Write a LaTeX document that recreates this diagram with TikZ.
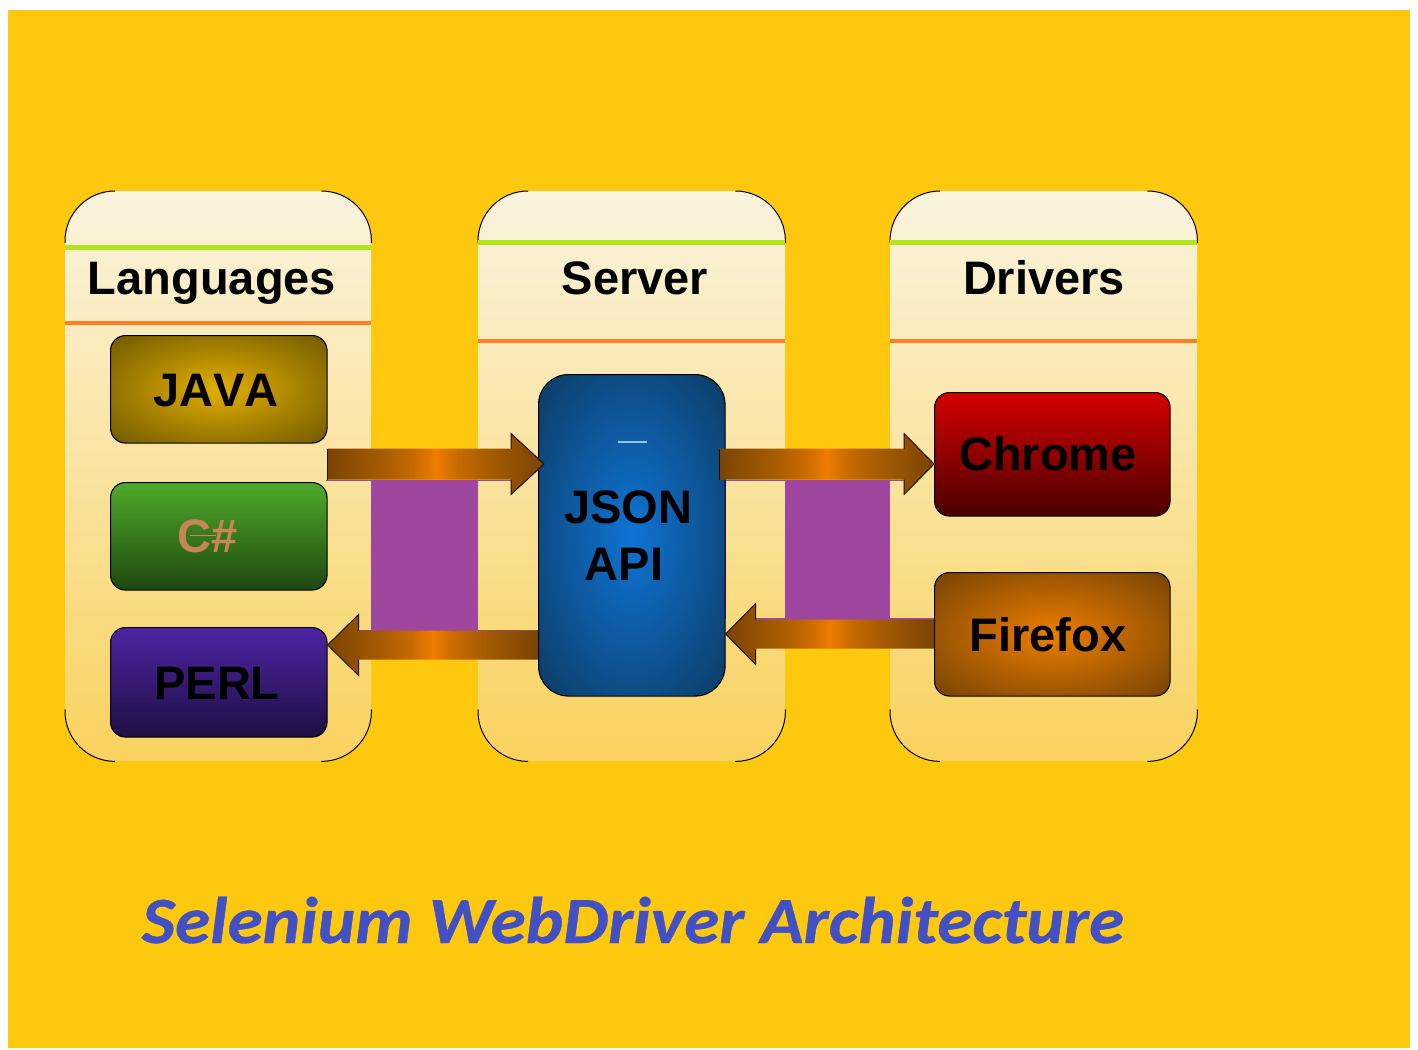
\documentclass[tikz,border=0pt]{standalone}
\usepackage{fontspec}
\setmainfont[Kerning=Off]{Liberation Sans}
\newfontfamily\titlefont[FakeStretch=1.08,FakeBold=0.6]{Carlito}
\usetikzlibrary{calc}
\definecolor{bgyellow}{HTML}{FEC80E}
\definecolor{purpleband}{HTML}{9F479E}
\definecolor{greenline}{HTML}{B0E61A}
\definecolor{orangeline}{HTML}{FF7F27}
\definecolor{paneltop}{HTML}{FAF4DE}
\definecolor{panelbot}{HTML}{F9D25E}
\definecolor{arrowdark}{HTML}{7A4304}
\definecolor{arrowb}{HTML}{A85C02}
\definecolor{arrowc}{HTML}{C86A00}
\definecolor{arrowmid}{HTML}{EE7D00}
\definecolor{titleblue}{HTML}{4150C4}
\definecolor{sharptext}{HTML}{C98558}
\definecolor{javain}{HTML}{E2AF00}
\definecolor{javaout}{HTML}{6F5800}
\definecolor{greentop}{HTML}{4FAA2A}
\definecolor{greenbot}{HTML}{1E4710}
\definecolor{perltop}{HTML}{4C24A4}
\definecolor{perlbot}{HTML}{1F0F42}
\definecolor{redtop}{HTML}{D40000}
\definecolor{redbot}{HTML}{4A0000}
\definecolor{foxin}{HTML}{EE7D00}
\definecolor{foxout}{HTML}{744204}
\definecolor{jsonin}{HTML}{0F74D4}
\definecolor{jsonout}{HTML}{0C3A62}
\definecolor{jsondash}{HTML}{8CC6E6}
\pgfdeclareradialshading{softjava}{\pgfpointorigin}{color(0bp)=(javain); color(36bp)=(javaout); color(50bp)=(javaout)}
\pgfdeclareradialshading{softfox}{\pgfpointorigin}{color(0bp)=(foxin); color(36bp)=(foxout); color(50bp)=(foxout)}
\pgfdeclareradialshading{softjson}{\pgfpointorigin}{color(0bp)=(jsonin); color(36bp)=(jsonout); color(50bp)=(jsonout)}
\pgfdeclarehorizontalshading{arrowband}{100bp}{color(0bp)=(arrowdark); color(25bp)=(arrowdark); color(38bp)=(arrowb); color(45bp)=(arrowc); color(50bp)=(arrowmid); color(55bp)=(arrowc); color(62bp)=(arrowb); color(75bp)=(arrowdark); color(100bp)=(arrowdark)}
\tikzset{
  x=1pt,y=-1pt,
  panelbox/.style={minimum width=#1,minimum height=570pt,inner sep=0pt,anchor=north west,
    top color=paneltop,bottom color=panelbot,draw=none,rounded corners=50pt},
  tile/.style={inner sep=0pt,anchor=north west,rounded corners=15pt,draw=black,line width=1.1pt},
  bigtext/.style={inner sep=0pt,anchor=base,text=black,font=\fontsize{47}{57}\selectfont\bfseries},
  rulegreen/.style={line width=4.5pt,draw=greenline},
  ruleorange/.style={line width=4.5pt,draw=orangeline},
  cornerarc/.style={draw=black,line width=1pt},
  arrowfill/.style={shading=arrowband},
  arrowedge/.style={draw=black!75!arrowdark,line width=1pt},
  hair/.style={draw=purpleband,line width=1.4pt},
}
\newcommand{\blockarrow}[5]{%
  \path[arrowfill] ($(#1)+(0,-#4)$) -- ($(#2)+(#3,-#4)$) -- ($(#2)+(#3,-#5)$) -- (#2)
     -- ($(#2)+(#3,#5)$) -- ($(#2)+(#3,#4)$) -- ($(#1)+(0,#4)$) -- cycle;
  \draw[arrowedge] ($(#2)+(#3,-#4)$) -- ($(#2)+(#3,-#5)$) -- (#2) -- ($(#2)+(#3,#5)$) -- ($(#2)+(#3,#4)$);
}
\newcommand{\panelarcs}[1]{%
  \draw[cornerarc] ($(#1.north west)+(0,52)$) -- ($(#1.north west)+(0,50)$) arc[start angle=180,end angle=90,radius=50pt];
  \draw[cornerarc] ($(#1.north east)+(-50,0)$) arc[start angle=90,end angle=0,radius=50pt] -- ++(0,2);
  \draw[cornerarc] ($(#1.south west)+(0,-52)$) -- ($(#1.south west)+(0,-50)$) arc[start angle=180,end angle=270,radius=50pt];
  \draw[cornerarc] ($(#1.south east)+(-50,0)$) arc[start angle=270,end angle=360,radius=50pt] -- ++(0,-2);
}
\begin{document}
\begin{tikzpicture}
\useasboundingbox (0,0) rectangle (1418,1049);
\fill[white] (0,0) rectangle (1418,1049);
\fill[bgyellow] (8,10) rectangle (1410,1048);

% panels
\node[panelbox=306pt] (langs) at (65,191) {};
\node[panelbox=307pt] (server) at (478,191) {};
\node[panelbox=307pt] (drivers) at (890,191) {};
\panelarcs{langs}\panelarcs{server}\panelarcs{drivers}

% header rules
\draw[rulegreen] (langs.west |- 0,247.5) -- (langs.east |- 0,247.5);
\draw[ruleorange] (langs.west |- 0,323) -- (langs.east |- 0,323);
\draw[rulegreen] (server.west |- 0,242.5) -- (server.east |- 0,242.5);
\draw[ruleorange] (server.west |- 0,341) -- (server.east |- 0,341);
\draw[rulegreen] (drivers.west |- 0,242.5) -- (drivers.east |- 0,242.5);
\draw[ruleorange] (drivers.west |- 0,341) -- (drivers.east |- 0,341);

% headers
\node[bigtext] (hlangs) at (212,294) {Languages};
\node[bigtext] (hserver) at (635,294) {Server};
\node[bigtext] (hdrivers) at (1044,294) {Drivers};

% purple bands between the panels
\fill[purpleband] (langs.east |- 0,480) rectangle (server.west |- 0,631);
\fill[purpleband] (server.east |- 0,480) rectangle (drivers.west |- 0,619);
\draw[hair] (326,480.5) -- (512,480.5);
\draw[hair] (358,630.5) -- (538,630.5);
\draw[hair] (719,480.5) -- (904,480.5);
\draw[hair] (754,619) -- (934,619);
\draw[hair] (725,480) -- (725,619);
\draw[bgyellow,line width=1.4pt] (724.5,407) -- (724.5,449);

% tiles
\node[tile,minimum width=216.5pt,minimum height=107.5pt,shading=softjava] (java) at (110,335) {};
\node[tile,minimum width=216.5pt,minimum height=107.5pt,top color=greentop,bottom color=greenbot] (csharp) at (110,482) {};
\node[tile,minimum width=216.5pt,minimum height=109.5pt,top color=perltop,bottom color=perlbot] (perl) at (110,627) {};
\node[tile,minimum width=186.5pt,minimum height=321.5pt,rounded corners=30pt,shading=softjson] (json) at (538,374) {};
\node[tile,minimum width=235.5pt,minimum height=123.5pt,top color=redtop,bottom color=redbot] (chrome) at (934,392) {};
\node[tile,minimum width=235.5pt,minimum height=123.5pt,shading=softfox] (firefox) at (934,572) {};

% tile labels
\node[bigtext] (tjava) at (216,406) {JAVA};
\node[bigtext,text=sharptext] (tcsharp) at (208,552) {C\#};
\draw[sharptext,line width=1pt] (190,535) -- (216,535);
\node[bigtext] (tperl) at (217,699) {PERL};
\node[bigtext,align=center,anchor=center] (tjson) at (628,536) {JSON\\\hspace*{-8pt}API};
\node[bigtext] (tchrome) at (1048,470) {Chrome};
\node[bigtext] (tfirefox) at (1048,651) {Firefox};
\draw[jsondash,line width=1.3pt] (618,442) -- (647,442);

% connectors
\coordinate (a1s) at (java.east |- 0,464);
\coordinate (a1t) at (json.west |- 0,464);
\coordinate (a1tip) at ($(a1t)+(6,0)$);
\coordinate (a2s) at (719,464);
\coordinate (a2t) at (chrome.west |- 0,464);
\coordinate (a3s) at (firefox.west |- 0,634);
\coordinate (a3t) at (json.east |- 0,634);
\coordinate (a4s) at (json.west |- 0,645);
\coordinate (a4t) at (perl.east |- 0,645);
\blockarrow{a1s}{a1tip}{-33}{15.5}{30.5}
\draw[arrowedge] (a1s |- 0,449) -- (a1s |- 0,480);
\blockarrow{a2s}{a2t}{-30}{15.5}{30.5}
\draw[arrowedge] (a2s |- 0,449) -- (a2s |- 0,480);
\blockarrow{a3s}{a3t}{30}{14.5}{30.5}
\blockarrow{a4s}{a4t}{31}{14.5}{30.5}

% title
\node[inner sep=0pt,anchor=base,text=titleblue] (title) at (633,943) {\titlefont\fontsize{66}{70}\selectfont\bfseries\itshape Selenium WebDriver Architecture};
\end{tikzpicture}
\end{document}
